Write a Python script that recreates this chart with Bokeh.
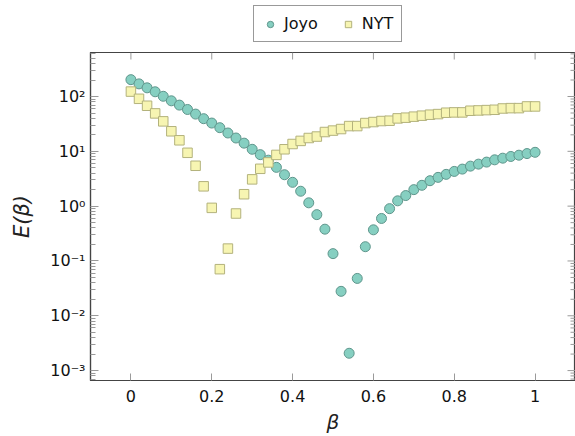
from bokeh.plotting import figure
from bokeh.layouts import column
from bokeh.models import (ColumnDataSource, Range1d, FixedTicker,
                          CustomJSTickFormatter, Legend, LegendItem)
from bokeh.embed import file_html
from bokeh.resources import INLINE

# beta sampled on [0, 1] in steps of 0.02
beta = [round(i * 0.02, 2) for i in range(51)]

joyo = [203, 170, 144, 122, 101, 83.5, 69.7, 58, 47.8, 39.4,
        32.8, 27, 21.6, 17.5, 14.1, 10.9, 8.7, 6.9, 5.1, 3.74,
        2.72, 1.87, 1.15, 0.70, 0.38, 0.136, 0.0279, 0.00207, 0.048, 0.182,
        0.37, 0.596, 0.9, 1.25, 1.56, 2.0, 2.4, 2.91, 3.35, 3.8,
        4.3, 4.74, 5.37, 5.84, 6.36, 7.0, 7.5, 8.06, 8.5, 9.1, 9.6]

nyt = [123, 90.8, 67.8, 49.2, 35.2, 23.2, 15.9, 9.4, 5.45, 2.3,
       0.93, 0.0708, 0.168, 0.734, 1.65, 3.08, 4.8, 6.27, 8.6, 10.9,
       13.6, 15.5, 17.5, 18.6, 22.5, 23.9, 25.5, 28.9, 28.9, 32.8,
       34.2, 35.7, 36.2, 39.9, 41.1, 42.9, 44.7, 46.6, 47.8, 50.6,
       51.3, 51.3, 55, 55.7, 56.5, 57.3, 60.5, 61.4, 61.4, 65.9, 65.9]

series_names = ["Joyo", "NYT"]
x_ticks = [0, 0.2, 0.4, 0.6, 0.8, 1.0]
y_decades = [-3, -2, -1, 0, 1, 2]

FONT = "DejaVu Sans"
TICK_GRAY = "#9a9a9a"
AXIS_COLOR = "#444444"
JOYO_STYLE = dict(marker="circle", fill_color="#86cfc1", line_color="#5f968c", line_width=1)
NYT_STYLE = dict(marker="square", fill_color="#f7f5b2", line_color="#b3b27c", line_width=1)

X_LO, X_HI = -0.1, 1.1
Y_LO, Y_HI = 10 ** -3.181, 10 ** 2.803

src = ColumnDataSource(dict(beta=beta, joyo=joyo, nyt=nyt))

p = figure(width=575, height=384, y_axis_type="log",
           x_range=Range1d(X_LO, X_HI), y_range=Range1d(Y_LO, Y_HI),
           output_backend="svg", toolbar_location=None,
           min_border_left=90, min_border_right=0,
           min_border_top=0, min_border_bottom=54)
p.grid.visible = False
p.outline_line_color = AXIS_COLOR
p.outline_line_width = 1.2

minor = []
for d in y_decades + [y_decades[-1] + 1]:
    for m in range(2, 10):
        minor.append(m * 10.0 ** (d - 1))
major_y = [10.0 ** d for d in y_decades]

# mirrored tick marks along the top and right edges of the frame
p.ray(x=x_ticks, y=[Y_HI] * len(x_ticks), length=7, length_units="screen",
      angle=-90, angle_units="deg", line_color=TICK_GRAY, line_width=1)
p.ray(x=[X_HI] * len(major_y), y=major_y, length=8, length_units="screen",
      angle=180, angle_units="deg", line_color=TICK_GRAY, line_width=1)
p.ray(x=[X_HI] * len(minor), y=minor, length=5, length_units="screen",
      angle=180, angle_units="deg", line_color=TICK_GRAY, line_width=1)

p.scatter("beta", "joyo", source=src, size=10, **JOYO_STYLE)
p.scatter("beta", "nyt", source=src, size=9.5, **NYT_STYLE)

sup_fmt = CustomJSTickFormatter(code="""
    const sup = {'-': '\\u207b', '0': '\\u2070', '1': '\\u00b9', '2': '\\u00b2',
                 '3': '\\u00b3', '4': '\\u2074', '5': '\\u2075', '6': '\\u2076',
                 '7': '\\u2077', '8': '\\u2078', '9': '\\u2079'};
    const e = String(Math.round(Math.log10(tick)));
    let s = '10';
    for (const c of e) { s += sup[c]; }
    return s;
""")
x_fmt = CustomJSTickFormatter(code="""
    return String(Math.round(tick * 10) / 10);
""")


def style_axis(ax, ticker):
    ax.ticker = ticker
    ax.axis_line_color = AXIS_COLOR
    ax.axis_line_width = 1.2
    ax.major_tick_in = 8
    ax.major_tick_out = 0
    ax.minor_tick_in = 5
    ax.minor_tick_out = 0
    ax.major_tick_line_color = TICK_GRAY
    ax.minor_tick_line_color = TICK_GRAY
    ax.major_label_text_font = FONT
    ax.major_label_text_font_size = "16px"
    ax.major_label_text_color = "#111111"


xa = p.xaxis[0]
style_axis(xa, FixedTicker(ticks=x_ticks))
xa.formatter = x_fmt
xa.major_tick_in = 7
xa.minor_tick_line_color = None
xa.major_label_standoff = 9
xa.axis_label = "\u03b2"
xa.axis_label_text_font = FONT
xa.axis_label_text_font_style = "italic"
xa.axis_label_text_font_size = "20px"
xa.axis_label_text_color = "#222222"
xa.axis_label_standoff = 5

ya = p.yaxis[0]
style_axis(ya, FixedTicker(ticks=major_y, minor_ticks=minor))
ya.formatter = sup_fmt
ya.major_label_standoff = 5
ya.axis_label = "E(\u03b2)"
ya.axis_label_text_font = FONT
ya.axis_label_text_font_style = "italic"
ya.axis_label_text_font_size = "21px"
ya.axis_label_text_color = "#222222"
ya.axis_label_standoff = 13

# legend strip above the chart; its proxy markers sit outside the strip's
# visible range so only the legend swatches show
leg_fig = figure(width=575, height=52, output_backend="svg", toolbar_location=None,
                 x_range=Range1d(0, 1), y_range=Range1d(0, 1),
                 x_axis_location=None, y_axis_location=None,
                 min_border_left=90, min_border_right=0,
                 min_border_top=0, min_border_bottom=0,
                 outline_line_color=None)
leg_fig.grid.visible = False
lj = leg_fig.scatter(x=[-5], y=[-5], size=12, **JOYO_STYLE)
ln = leg_fig.scatter(x=[-5], y=[-5], size=12, **NYT_STYLE)
legend = Legend(items=[LegendItem(label=series_names[0], renderers=[lj]),
                       LegendItem(label=series_names[1], renderers=[ln])],
                orientation="horizontal", location=(163, 10),
                label_text_font=FONT, label_text_font_size="16px",
                label_text_color="#111111",
                border_line_color="#333333", border_line_width=1.2,
                padding=8, spacing=22, margin=0,
                glyph_width=16, glyph_height=16, label_standoff=6)
leg_fig.add_layout(legend)

layout = column(leg_fig, p, spacing=0)
open("out.html", "w").write(file_html(layout, INLINE))
